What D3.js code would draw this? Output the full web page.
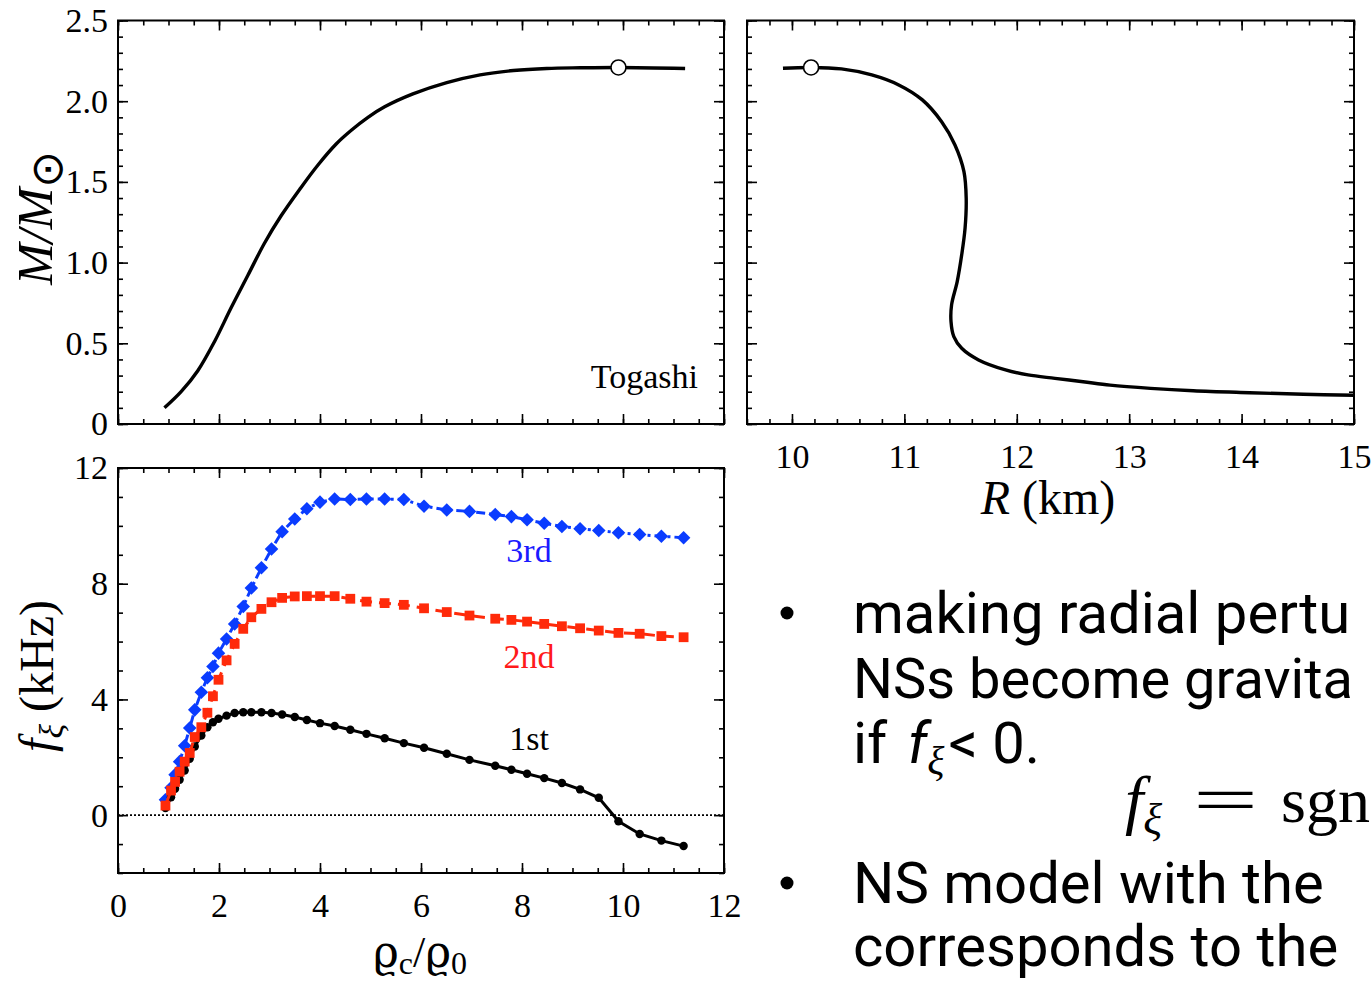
<!DOCTYPE html>
<html>
<head>
<meta charset="utf-8">
<script src="https://cdn.jsdelivr.net/npm/d3@7"></script>
<style>
html, body { margin: 0; padding: 0; background: #fff; overflow: hidden; }
svg { display: block; }
</style>
</head>
<body>
<svg id="chart" width="1372" height="981"></svg>
<script>
// mass vs central density (top left)
var rhoMR  = [0.92, 1.25, 1.58, 1.91, 2.24, 2.57, 2.90, 3.23, 3.60, 3.96, 4.32, 4.62, 4.95, 5.28, 5.84, 6.51, 7.17, 7.83, 8.49, 9.15, 9.91, 11.23];
var massRho = [0.10, 0.20, 0.33, 0.51, 0.72, 0.92, 1.12, 1.29, 1.455, 1.605, 1.735, 1.82, 1.90, 1.965, 2.045, 2.115, 2.163, 2.19, 2.203, 2.207, 2.209, 2.203];

// mass vs radius (top right)
var radius = [9.92, 10.17, 10.44, 10.71, 10.95, 11.16, 11.33, 11.45, 11.53, 11.55, 11.54, 11.51, 11.47, 11.42, 11.415, 11.44, 11.51, 11.66, 11.90, 12.10, 12.34, 12.59, 12.83, 13.19, 13.57, 14.07, 14.55, 15.0];
var massRad = [2.204, 2.209, 2.200, 2.163, 2.101, 2.008, 1.874, 1.729, 1.564, 1.399, 1.213, 1.048, 0.882, 0.738, 0.634, 0.541, 0.469, 0.397, 0.335, 0.304, 0.283, 0.262, 0.241, 0.221, 0.206, 0.194, 0.184, 0.178];

// maximum mass model
var maxRho = 9.91, maxRadius = 10.17, maxMass = 2.209;

// radial oscillation frequencies (bottom left)
var rhoModes = [0.94, 1.05, 1.13, 1.22, 1.32, 1.42, 1.52, 1.65, 1.77, 1.88, 1.99, 2.15, 2.31, 2.48, 2.64, 2.84, 3.04, 3.25, 3.50, 3.74,
                4.00, 4.29, 4.60, 4.92, 5.28, 5.66, 6.06, 6.51, 6.96, 7.47, 7.79, 8.10, 8.44, 8.79, 9.15, 9.52, 9.91, 10.33, 10.76, 11.20];
var f1st = [0.25, 0.62, 0.91, 1.22, 1.54, 1.95, 2.37, 2.75, 3.04, 3.21, 3.33, 3.44, 3.53, 3.56, 3.56, 3.56, 3.53, 3.48, 3.39, 3.29,
            3.18, 3.08, 2.95, 2.81, 2.66, 2.49, 2.33, 2.12, 1.91, 1.71, 1.57, 1.43, 1.28, 1.11, 0.89, 0.60, -0.21, -0.65, -0.88, -1.07];
var f2nd = [0.33, 0.85, 1.15, 1.50, 1.85, 2.15, 2.70, 3.04, 3.54, 4.11, 4.68, 5.35, 5.92, 6.44, 6.84, 7.13, 7.36, 7.51, 7.56, 7.57,
            7.57, 7.57, 7.48, 7.38, 7.33, 7.27, 7.15, 7.02, 6.90, 6.79, 6.75, 6.69, 6.61, 6.53, 6.46, 6.38, 6.30, 6.27, 6.19, 6.15];
var f3rd = [0.53, 0.95, 1.40, 1.85, 2.40, 3.01, 3.64, 4.25, 4.75, 5.14, 5.60, 6.09, 6.61, 7.21, 7.85, 8.55, 9.20, 9.80, 10.24, 10.59,
            10.82, 10.93, 10.91, 10.93, 10.93, 10.91, 10.68, 10.55, 10.50, 10.39, 10.32, 10.21, 10.09, 9.98, 9.90, 9.84, 9.76, 9.70, 9.64, 9.59];

var rhoTicks = [0, 2, 4, 6, 8, 10, 12];
var radTicks = [10, 11, 12, 13, 14, 15];
var massTicks = [0, 0.5, 1.0, 1.5, 2.0, 2.5];
var freqTicks = [0, 4, 8, 12];

var serif = '"Liberation Serif", "Times New Roman", serif';

var svg = d3.select('#chart');
svg.append('rect').attr('width', 1372).attr('height', 981).attr('fill', '#fff');

var rhoX = d3.scaleLinear().domain([0, 12]).range([118, 724]);
var radX = d3.scaleLinear().domain([9.6, 15]).range([747, 1354]);
var massY = d3.scaleLinear().domain([0, 2.5]).range([424, 20.5]);
var freqY = d3.scaleLinear().domain([-2, 12]).range([873, 468]);

function steps(a, b, s) {
  var out = [];
  for (var i = 0; a + i * s <= b + 1e-9; i++) out.push(+(a + i * s).toFixed(4));
  return out;
}

// box with inward ticks on all four sides
function frame(x, y, xMajor, xMinor, yMajor, yMinor, xFmt, yFmt, id) {
  var g = svg.append('g');
  var x0 = x.range()[0], x1 = x.range()[1], yb = y.range()[0], yt = y.range()[1];

  var sides = [
    [d3.axisBottom(x), xMinor, xMajor, 0, yb, xFmt, 20],
    [d3.axisTop(x), xMinor, xMajor, 0, yt, null, 0],
    [d3.axisLeft(y), yMinor, yMajor, x0, 0, yFmt, 10],
    [d3.axisRight(y), yMinor, yMajor, x1, 0, null, 0]
  ];
  sides.forEach(function(s) {
    var minor = g.append('g').attr('transform', 'translate(' + s[3] + ',' + s[4] + ')')
      .call(s[0].tickValues(s[1]).tickSize(-5).tickFormat(''));
    minor.select('.domain').remove();
    minor.selectAll('line').attr('stroke-width', 1.6);

    var major = g.append('g').attr('transform', 'translate(' + s[3] + ',' + s[4] + ')')
      .call(s[0].tickValues(s[2]).tickSize(-10).tickPadding(s[6]).tickFormat(s[5] || ''));
    major.select('.domain').remove();
    major.selectAll('line').attr('stroke-width', 1.6);
    major.attr('font-family', serif).attr('font-size', 34);
    major.selectAll('text').attr('fill', '#000');
  });

  g.append('rect')
    .attr('x', x0).attr('y', yt)
    .attr('width', x1 - x0).attr('height', yb - yt)
    .attr('fill', 'none').attr('stroke', '#000').attr('stroke-width', 2);

  svg.append('clipPath').attr('id', id)
    .append('rect').attr('x', x0).attr('y', yt).attr('width', x1 - x0).attr('height', yb - yt);
  return g;
}

// ---------- top left: M vs rho_c
frame(rhoX, massY, rhoTicks, steps(0, 12, 0.5), massTicks, steps(0, 2.5, 0.1), null,
  function(d) { return d === 0 ? '0' : d.toFixed(1); }, 'clipTL');

svg.append('path')
  .datum(d3.zip(rhoMR, massRho))
  .attr('clip-path', 'url(#clipTL)')
  .attr('fill', 'none').attr('stroke', '#000').attr('stroke-width', 3.4)
  .attr('d', d3.line().x(function(d) { return rhoX(d[0]); }).y(function(d) { return massY(d[1]); }).curve(d3.curveCatmullRom.alpha(0.5)));

svg.append('circle')
  .attr('cx', rhoX(maxRho)).attr('cy', massY(maxMass)).attr('r', 7.5)
  .attr('fill', '#fff').attr('stroke', '#000').attr('stroke-width', 1.6);

svg.append('text').attr('x', 698).attr('y', 388).attr('text-anchor', 'end')
  .attr('font-family', serif).attr('font-size', 34).text('Togashi');

// ---------- top right: M vs R
frame(radX, massY, radTicks, steps(9.6, 15, 0.2), massTicks, steps(0, 2.5, 0.1),
  function(d) { return d; }, null, 'clipTR');

svg.append('path')
  .datum(d3.zip(radius, massRad))
  .attr('clip-path', 'url(#clipTR)')
  .attr('fill', 'none').attr('stroke', '#000').attr('stroke-width', 3.4)
  .attr('d', d3.line().x(function(d) { return radX(d[0]); }).y(function(d) { return massY(d[1]); }).curve(d3.curveCatmullRom.alpha(0.5)));

svg.append('circle')
  .attr('cx', radX(maxRadius)).attr('cy', massY(maxMass)).attr('r', 7.5)
  .attr('fill', '#fff').attr('stroke', '#000').attr('stroke-width', 1.6);

// ---------- bottom left: f_xi vs rho_c
frame(rhoX, freqY, rhoTicks, steps(0, 12, 0.5), freqTicks, steps(-2, 12, 1),
  function(d) { return d; }, function(d) { return d; }, 'clipBL');

svg.append('line')
  .attr('x1', rhoX(0)).attr('x2', rhoX(12))
  .attr('y1', freqY(0)).attr('y2', freqY(0))
  .attr('stroke', '#000').attr('stroke-width', 1.6).attr('stroke-dasharray', '2,2');

var modes = [
  { name: '3rd', vals: f3rd, color: '#0a3cff', dash: '9,4,3,4', symbol: d3.symbolSquare, size: 92, rot: 45, ly: 562, tc: '#1a1aff' },
  { name: '1st', vals: f1st, color: '#000000', dash: null, symbol: d3.symbolCircle, size: 56, rot: 0, ly: 750, tc: '#000' },
  { name: '2nd', vals: f2nd, color: '#ff2a0a', dash: '12,7', symbol: d3.symbolSquare, size: 96, rot: 0, ly: 668, tc: '#ff1a1a' }
];

var modeLine = d3.line().x(function(d) { return rhoX(d[0]); }).y(function(d) { return freqY(d[1]); });

modes.forEach(function(m) {
  var pts = d3.zip(rhoModes, m.vals);
  var g = svg.append('g').attr('clip-path', 'url(#clipBL)');
  g.append('path').datum(pts)
    .attr('fill', 'none').attr('stroke', m.color).attr('stroke-width', 3)
    .attr('stroke-dasharray', m.dash)
    .attr('d', modeLine);
  g.selectAll('path.mk').data(pts).enter().append('path')
    .attr('class', 'mk')
    .attr('fill', m.color)
    .attr('transform', function(d) { return 'translate(' + rhoX(d[0]) + ',' + freqY(d[1]) + ') rotate(' + m.rot + ')'; })
    .attr('d', d3.symbol().type(m.symbol).size(m.size));
  svg.append('text').attr('x', 529).attr('y', m.ly).attr('text-anchor', 'middle')
    .attr('font-family', serif).attr('font-size', 34)
    .attr('fill', m.tc)
    .text(m.name);
});

// ---------- axis titles
var t1 = svg.append('text').attr('transform', 'translate(52,218) rotate(-90)')
  .attr('text-anchor', 'middle').attr('font-family', serif).attr('font-size', 50);
t1.append('tspan').attr('font-style', 'italic').text('M/M');
t1.append('tspan').attr('font-size', 44).attr('dy', 10).attr('font-family', '"DejaVu Sans", sans-serif').text('\u2299');

var t2 = svg.append('text').attr('transform', 'translate(53,676) rotate(-90)')
  .attr('text-anchor', 'middle').attr('font-family', serif).attr('font-size', 48);
t2.append('tspan').attr('font-style', 'italic').text('f');
t2.append('tspan').attr('font-style', 'italic').attr('font-size', 34).attr('dy', 10).text('\u03BE');
t2.append('tspan').attr('dy', -10).text(' (kHz)');

var t3 = svg.append('text').attr('x', 420).attr('y', 967)
  .attr('text-anchor', 'middle').attr('font-family', serif).attr('font-size', 40);
t3.append('tspan').attr('font-family', '"DejaVu Serif", serif').attr('font-size', 44).text('\u03F1');
t3.append('tspan').attr('font-size', 32).attr('dy', 7).text('c');
t3.append('tspan').attr('font-size', 44).attr('dy', -7).text('/');
t3.append('tspan').attr('font-family', '"DejaVu Serif", serif').attr('font-size', 44).text('\u03F1');
t3.append('tspan').attr('font-size', 32).attr('dy', 7).text('0');

var t4 = svg.append('text').attr('x', 1048).attr('y', 514)
  .attr('text-anchor', 'middle').attr('font-family', serif).attr('font-size', 48);
t4.append('tspan').attr('font-style', 'italic').text('R');
t4.append('tspan').text(' (km)');

// ---------- slide text on the right (only the part that is visible)
var sans = 'Roboto, "Noto Sans", sans-serif';
var notes = svg.append('g').attr('font-family', sans).attr('font-size', 58).attr('fill', '#000');
notes.append('circle').attr('cx', 787).attr('cy', 613).attr('r', 6.5);
notes.append('circle').attr('cx', 787).attr('cy', 883).attr('r', 6.5);
notes.append('text').attr('x', 853).attr('y', 633).text('making radial pertu');
notes.append('text').attr('x', 853).attr('y', 698).attr('font-size', 56).text('NSs become gravita');
var ifLine = notes.append('text').attr('x', 853).attr('y', 763);
ifLine.append('tspan').text('if ');
ifLine.append('tspan').attr('font-style', 'italic').attr('dx', 6).text('f');
ifLine.append('tspan').attr('font-family', serif).attr('font-style', 'italic').attr('font-size', 40).attr('dy', 11).text('\u03BE');
ifLine.append('tspan').attr('dy', -11).attr('dx', 4).text('< 0.');
notes.append('text').attr('x', 853).attr('y', 903).text('NS model with the');
notes.append('text').attr('x', 853).attr('y', 966).text('corresponds to the');

var formula = svg.append('g').attr('font-family', serif).attr('font-size', 66);
var fx = formula.append('text').attr('x', 1125).attr('y', 822);
fx.append('tspan').attr('font-style', 'italic').text('f');
fx.append('tspan').attr('font-style', 'italic').attr('font-size', 44).attr('dy', 12).text('\u03BE');
formula.append('text').attr('transform', 'translate(1193,822) scale(1.75,1)').text('=');
formula.append('text').attr('x', 1281).attr('y', 822).attr('font-size', 64).text('sgn');
</script>
</body>
</html>
